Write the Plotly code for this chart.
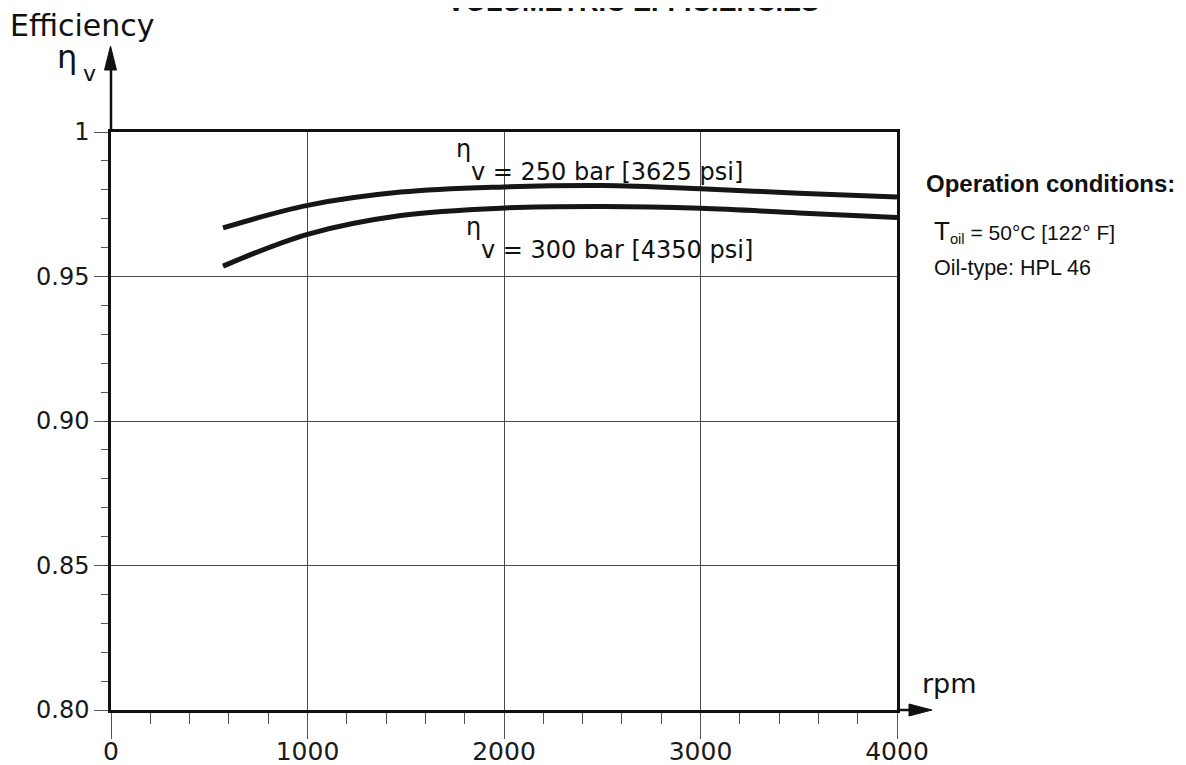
import plotly.graph_objects as go

# ---- data ----
rpm_250 = [570, 1000, 1475, 2000, 2500, 3000, 3500, 4000]
eff_250 = [0.9668, 0.9746, 0.9792, 0.9810, 0.9815, 0.9804, 0.9788, 0.9775]
rpm_300 = [570, 1000, 1475, 2000, 2500, 3000, 3500, 4000]
eff_300 = [0.9536, 0.9646, 0.9711, 0.9737, 0.9742, 0.9736, 0.9720, 0.9704]

y_tickvals = [0.80, 0.85, 0.90, 0.95, 1.0]
y_ticktext = ["0.80", "0.85", "0.90", "0.95", "1"]
x_tickvals = [0, 1000, 2000, 3000, 4000]
x_ticktext = ["0", "1000", "2000", "3000", "4000"]

# ---- layout geometry (screen pixels; the page body has an 8px margin) ----
OFF = 8
FW, FH = 1186 - OFF, 765 - OFF
PL, PR, PT, PB = 111, 897, 132, 710          # plot area in screen pixels
ML, MT = PL - OFF, PT - OFF
MR, MB = FW - (PR - OFF), FH - (PB - OFF)
PW = PR - PL
PH = PB - PT


def px(xp):
    return (xp - PL) / PW


def py(yp):
    return (PB - yp) / PH


DJ = "DejaVu Sans"
AR = "Liberation Sans, Arial"

fig = go.Figure()
fig.add_trace(go.Scatter(x=rpm_250, y=eff_250, mode="lines",
                         line=dict(color="#161616", width=5, shape="spline", smoothing=1.0),
                         hoverinfo="skip", showlegend=False))
fig.add_trace(go.Scatter(x=rpm_300, y=eff_300, mode="lines",
                         line=dict(color="#161616", width=5, shape="spline", smoothing=1.0),
                         hoverinfo="skip", showlegend=False))

shapes = []
# white masks behind curve labels (above grid, below traces)
for (x0, x1, y0, y1) in [(455, 741, 133, 178), (465, 751, 222, 268)]:
    shapes.append(dict(type="rect", xref="paper", yref="paper",
                       x0=px(x0), x1=px(x1), y0=py(y1), y1=py(y0),
                       fillcolor="white", line=dict(width=0), layer="between"))
# axis extensions with arrows
shapes.append(dict(type="line", xref="paper", yref="paper",
                   x0=0, x1=0, y0=1, y1=py(66), line=dict(color="#111", width=2.5)))
shapes.append(dict(type="path", xref="paper", yref="paper",
                   path=f"M {px(104.5)} {py(70)} L {px(116.5)} {py(70)} L {px(110.5)} {py(46)} Z",
                   fillcolor="#111", line=dict(color="#111", width=1)))
shapes.append(dict(type="line", xref="paper", yref="paper",
                   x0=1, x1=px(912), y0=0, y1=0, line=dict(color="#111", width=2.5)))
shapes.append(dict(type="path", xref="paper", yref="paper",
                   path=f"M {px(909)} {py(704)} L {px(909)} {py(716)} L {px(932)} {py(710)} Z",
                   fillcolor="#111", line=dict(color="#111", width=1)))


def mid(baseline, size):
    return py(baseline - 0.346 * size)


ann = []
ann.append(dict(text="<b>VOLUMETRIC EFFICIENCIES</b>", x=px(633), y=mid(11, 27),
                font=dict(family=AR, size=27, color="#111")))
ann.append(dict(text="Efficiency", x=px(9), y=mid(35.5, 30), xanchor="left",
                font=dict(family=DJ, size=30, color="#111")))
ann.append(dict(text="η", x=px(56), y=mid(68, 32), xanchor="left",
                font=dict(family=DJ, size=32, color="#111")))
ann.append(dict(text="v", x=px(82), y=mid(81.5, 22), xanchor="left",
                font=dict(family=DJ, size=22, color="#111")))
ann.append(dict(text="rpm", x=px(921), y=mid(693, 27), xanchor="left",
                font=dict(family=DJ, size=27, color="#111")))
# curve labels
ann.append(dict(text="η", x=px(455), y=mid(157, 24), xanchor="left",
                font=dict(family=DJ, size=24, color="#111")))
ann.append(dict(text="v = 250 bar [3625 psi]", x=px(469.5), y=mid(180, 24), xanchor="left",
                font=dict(family=DJ, size=24, color="#111")))
ann.append(dict(text="η", x=px(465), y=mid(235, 24), xanchor="left",
                font=dict(family=DJ, size=24, color="#111")))
ann.append(dict(text="v = 300 bar [4350 psi]", x=px(479.5), y=mid(258, 24), xanchor="left",
                font=dict(family=DJ, size=24, color="#111")))
# operation conditions
ann.append(dict(text="<b>Operation conditions:</b>", x=px(925), y=mid(191.5, 24), xanchor="left",
                font=dict(family=AR, size=24, color="#111")))
ann.append(dict(text="<span style='font-size:26px'>T</span><sub>oil</sub> = 50°C [122° F]",
                x=px(933), y=mid(239, 21), xanchor="left",
                font=dict(family=AR, size=21, color="#111")))
ann.append(dict(text="Oil-type: HPL 46", x=px(933), y=mid(275, 21.5), xanchor="left",
                font=dict(family=AR, size=21.5, color="#111")))
for a in ann:
    a.update(xref="paper", yref="paper", showarrow=False, yanchor="middle",
             borderpad=0)
    a.setdefault("xanchor", "center")

fig.update_layout(
    width=FW, height=FH,
    margin=dict(l=ML, r=MR, t=MT, b=MB, pad=0, autoexpand=False),
    paper_bgcolor="white", plot_bgcolor="white",
    shapes=shapes, annotations=ann,
    xaxis=dict(range=[0, 4000], tickmode="array", tickvals=x_tickvals, ticktext=x_ticktext,
               automargin=False,
               showgrid=True, gridcolor="#4a4a4a", gridwidth=1,
               ticks="outside", ticklen=26, tickwidth=1, tickcolor="#555",
               ticklabelstandoff=-9,
               minor=dict(dtick=200, tick0=0, ticks="outside", ticklen=11, tickwidth=1,
                          tickcolor="#555", showgrid=False),
               showline=True, linewidth=2.5, linecolor="#111", mirror=True,
               zeroline=False, tickfont=dict(family=DJ, size=25, color="#1a1a1a")),
    yaxis=dict(range=[0.80, 1.0], tickmode="array", tickvals=y_tickvals, ticktext=y_ticktext,
               automargin=False,
               showgrid=True, gridcolor="#4a4a4a", gridwidth=1,
               ticks="outside", ticklen=14, tickwidth=1, tickcolor="#555",
               minor=dict(dtick=0.01, tick0=0.8, ticks="outside", ticklen=7, tickwidth=1,
                          tickcolor="#555", showgrid=False),
               showline=True, linewidth=2.5, linecolor="#111", mirror=True,
               zeroline=False, tickfont=dict(family=DJ, size=24, color="#1a1a1a")),
)

fig.write_html("out.html")
